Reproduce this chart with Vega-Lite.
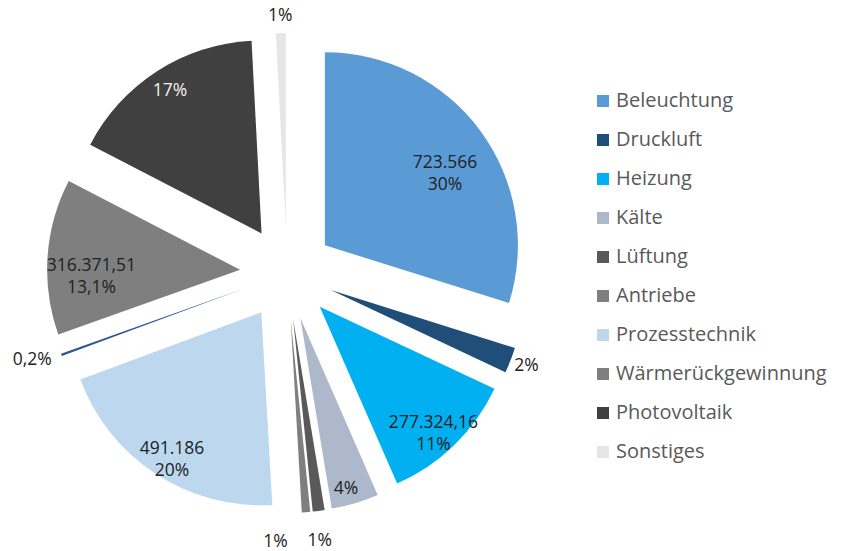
{
  "$schema": "https://vega.github.io/schema/vega-lite/v6.json",
  "width": 574,
  "height": 546,
  "autosize": {"type": "none"},
  "padding": {"left": 0, "top": 0, "right": 270, "bottom": 5},
  "background": "white",
  "config": {"view": {"stroke": null}, "font": "Open Sans"},
  "data": {
    "values": [
      {"idx": 1, "category": "Beleuchtung", "value": 723566, "label": "723.566\n30%"},
      {"idx": 2, "category": "Druckluft", "value": 52000, "label": "2%"},
      {"idx": 3, "category": "Heizung", "value": 277324.16, "label": "277.324,16\n11%"},
      {"idx": 4, "category": "Kälte", "value": 96000, "label": "4%"},
      {"idx": 5, "category": "Lüftung", "value": 24000, "label": "1%"},
      {"idx": 6, "category": "Antriebe", "value": 17000, "label": "1%"},
      {"idx": 7, "category": "Prozesstechnik", "value": 491186, "label": "491.186\n20%"},
      {"idx": 8, "category": "Weitere", "value": 5000, "label": "0,2%"},
      {"idx": 9, "category": "Wärmerückgewinnung", "value": 316371.51, "label": "316.371,51\n13,1%"},
      {"idx": 10, "category": "Photovoltaik", "value": 401552, "label": "17%"},
      {"idx": 11, "category": "Sonstiges", "value": 20000, "label": "1%"}
    ]
  },
  "encoding": {
    "theta": {"field": "value", "type": "quantitative", "stack": true},
    "order": {"field": "idx", "type": "quantitative"},
    "detail": {"field": "category", "type": "nominal"}
  },
  "layer": [
    {
      "mark": {
        "type": "arc",
        "outerRadius": 193,
        "xOffset": {"expr": "47*sin(scale('theta', 0.5*datum.value_start + 0.5*datum.value_end))"},
        "yOffset": {"expr": "-47*cos(scale('theta', 0.5*datum.value_start + 0.5*datum.value_end))"}
      },
      "encoding": {
        "color": {
          "field": "category",
          "type": "nominal",
          "scale": {
            "domain": ["Beleuchtung", "Druckluft", "Heizung", "Kälte", "Lüftung", "Antriebe", "Prozesstechnik", "Weitere", "Wärmerückgewinnung", "Photovoltaik", "Sonstiges"],
            "range": ["#5B9BD5", "#1F4E79", "#00B0F0", "#ADB9CA", "#595959", "#7F7F7F", "#BDD7EE", "#2F5597", "#7F7F7F", "#404040", "#E7E6E6"]
          },
          "legend": {
            "values": ["Beleuchtung", "Druckluft", "Heizung", "Kälte", "Lüftung", "Antriebe", "Prozesstechnik", "Wärmerückgewinnung", "Photovoltaik", "Sonstiges"],
            "title": null,
            "orient": "none",
            "legendX": 593,
            "legendY": 91,
            "symbolType": "square",
            "symbolSize": 144,
            "symbolStrokeWidth": 0,
            "labelFont": "Open Sans",
            "labelFontSize": 20,
            "labelColor": "#595959",
            "labelOffset": 3,
            "rowPadding": 19,
            "labelLimit": 300
          }
        }
      }
    },
    {
      "mark": {"type": "text", "radius": 196, "dy": 6, "font": "Open Sans", "fontSize": 17.5, "fill": "#222222", "lineBreak": "\n", "lineHeight": 22, "align": "center", "baseline": "middle"},
      "encoding": {
        "text": {"condition": {"test": "datum.category === 'Beleuchtung' || datum.category === 'Wärmerückgewinnung'", "field": "label", "type": "nominal"}, "value": ""}
      }
    },
    {
      "mark": {"type": "text", "radius": 210, "font": "Open Sans", "fontSize": 17.5, "fill": "#222222", "lineBreak": "\n", "lineHeight": 22, "align": "center", "baseline": "middle"},
      "encoding": {
        "text": {"condition": {"test": "datum.category === 'Heizung' || datum.category === 'Prozesstechnik'", "field": "label", "type": "nominal"}, "value": ""}
      }
    },
    {
      "mark": {"type": "text", "radius": 216, "font": "Open Sans", "fontSize": 17.5, "fill": "#F2F2F2", "align": "center", "baseline": "middle"},
      "encoding": {
        "text": {"condition": {"test": "datum.category === 'Photovoltaik'", "field": "label", "type": "nominal"}, "value": ""}
      }
    },
    {
      "mark": {"type": "text", "radius": 225, "dx": -5, "font": "Open Sans", "fontSize": 17.5, "fill": "#222222", "align": "center", "baseline": "middle"},
      "encoding": {
        "text": {"condition": {"test": "datum.category === 'Kälte'", "field": "label", "type": "nominal"}, "value": ""}
      }
    },
    {
      "mark": {"type": "text", "radius": 257, "font": "Open Sans", "fontSize": 17.5, "fill": "#222222", "align": "center", "baseline": "middle"},
      "encoding": {
        "text": {"condition": {"test": "datum.category === 'Druckluft' || datum.category === 'Sonstiges'", "field": "label", "type": "nominal"}, "value": ""}
      }
    },
    {
      "mark": {"type": "text", "radius": 270, "dx": -3, "font": "Open Sans", "fontSize": 17.5, "fill": "#222222", "align": "center", "baseline": "middle"},
      "encoding": {
        "text": {"condition": {"test": "datum.category === 'Lüftung'", "field": "label", "type": "nominal"}, "value": ""}
      }
    },
    {
      "mark": {"type": "text", "radius": 270, "dx": -33, "font": "Open Sans", "fontSize": 17.5, "fill": "#222222", "align": "center", "baseline": "middle"},
      "encoding": {
        "text": {"condition": {"test": "datum.category === 'Antriebe'", "field": "label", "type": "nominal"}, "value": ""}
      }
    },
    {
      "mark": {"type": "text", "radius": 269, "dx": -2, "dy": -5, "font": "Open Sans", "fontSize": 17.5, "fill": "#222222", "align": "center", "baseline": "middle"},
      "encoding": {
        "text": {"condition": {"test": "datum.category === 'Weitere'", "field": "label", "type": "nominal"}, "value": ""}
      }
    }
  ]
}
